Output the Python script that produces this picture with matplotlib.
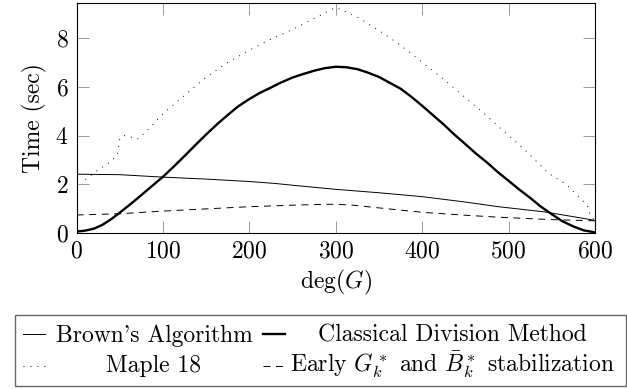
import matplotlib
matplotlib.use("Agg")
import matplotlib.pyplot as plt
from matplotlib.lines import Line2D
from matplotlib.patches import Rectangle

plt.rcParams['font.family'] = 'serif'
plt.rcParams['font.serif'] = ['cmr10']
plt.rcParams['mathtext.fontset'] = 'cm'
plt.rcParams['axes.formatter.use_mathtext'] = True
plt.rcParams['lines.scale_dashes'] = False

# Brown's Algorithm
brown_x = [0, 50, 100, 150, 200, 230, 258, 300, 350, 400, 450, 488, 543, 600]
brown_y = [2.42, 2.40, 2.30, 2.22, 2.12, 2.04, 1.94, 1.80, 1.66, 1.50, 1.28, 1.09, 0.87, 0.53]

# Classical Division Method
classical_x = [0, 10, 20, 30, 40, 50, 60, 70, 80, 90, 100, 112, 125, 137, 150, 162, 175, 187,
               200, 212, 225, 235, 250, 262, 275, 287, 300, 312, 325, 337, 350, 362, 375, 387,
               400, 412, 425, 437, 450, 462, 475, 487, 500, 512, 525, 537, 550, 562, 575, 587, 600]
classical_y = [0.07, 0.11, 0.19, 0.35, 0.58, 0.85, 1.13, 1.42, 1.72, 2.02, 2.32, 2.72, 3.17,
               3.6, 4.05, 4.45, 4.85, 5.2, 5.5, 5.75, 5.97, 6.15, 6.38, 6.52, 6.66, 6.76, 6.82,
               6.8, 6.72, 6.58, 6.4, 6.17, 5.92, 5.6, 5.22, 4.85, 4.45, 4.05, 3.65, 3.27, 2.9,
               2.52, 2.15, 1.8, 1.45, 1.1, 0.78, 0.5, 0.28, 0.12, 0.04]

# Maple 18
maple_x = [10, 25, 40, 47, 50, 55, 62, 70, 80, 100, 125, 150, 175, 200, 225, 250, 275, 300,
           325, 350, 375, 400, 425, 450, 475, 500, 519, 546, 567, 573, 591, 595, 600]
maple_y = [2.2, 2.6, 2.95, 3.2, 3.9, 4.0, 3.95, 3.85, 4.15, 4.9, 5.65, 6.4, 7.0, 7.5, 7.95,
           8.35, 8.8, 9.25, 8.85, 8.3, 7.7, 7.0, 6.3, 5.55, 4.8, 4.0, 3.41, 2.46, 2.0, 1.77,
           1.16, 0.68, 0.55]

# Early G_k^* and B_k^* stabilization
early_x = [0, 50, 100, 150, 200, 258, 280, 300, 320, 350, 400, 450, 488, 550, 600]
early_y = [0.75, 0.80, 0.91, 1.00, 1.09, 1.16, 1.18, 1.19, 1.15, 1.04, 0.86, 0.74, 0.66, 0.56, 0.51]

labels = ["Brown's Algorithm", "Classical Division Method", "Maple 18",
          r"Early $G_k^*$ and $\bar{B}_k^*$ stabilization"]

W, H = 627, 389
fig = plt.figure(figsize=(W / 100, H / 100), dpi=100)
ax = fig.add_axes([76.7 / W, 1 - 233.3 / H, (595 - 76.7) / W, (233.3 - 3) / H])

styles = [
    dict(color='black', lw=0.7),
    dict(color='black', lw=1.7),
    dict(color='black', lw=0.7, dashes=(0.7, 4.3)),
    dict(color='black', lw=0.7, dashes=(5.0, 4.0)),
]
series = [(brown_x, brown_y), (classical_x, classical_y), (maple_x, maple_y), (early_x, early_y)]
for (xs, ys), st in zip(series, styles):
    ax.plot(xs, ys, **st)

ax.set_xlim(0, 600)
ax.set_ylim(0, 9.43)
ax.set_xticks([0, 100, 200, 300, 400, 500, 600])
ax.set_yticks([0, 2, 4, 6, 8])
ax.tick_params(direction='in', length=8.4, width=0.7, color='#999999',
               top=True, right=True, labelsize=17)
ax.tick_params(axis='x', pad=5)
ax.tick_params(axis='y', pad=6)
for s in ax.spines.values():
    s.set_linewidth(0.8)
ax.set_xlabel(r'$\deg(G)$', fontsize=17, labelpad=4)
ax.set_ylabel('Time (sec)', fontsize=17, labelpad=6)

# legend box drawn by hand, two columns with centred labels
fig.patches.append(Rectangle((15 / W, 1 - 386 / H), (626 - 15) / W, (386 - 315) / H,
                             transform=fig.transFigure, fill=False, edgecolor='#666666', lw=1.0))
handle_x = [(23, 45), (263, 285), (23, 45), (263, 285)]
text_cx = [154, 452.5, 154, 452.5]
rows = [(334.3, 342), (334.3, 342), (366, 372), (366, 372)]
for i in range(4):
    x0, x1 = handle_x[i]
    yl, yb = rows[i]
    fig.lines.append(Line2D([x0 / W, x1 / W], [1 - yl / H, 1 - yl / H],
                            transform=fig.transFigure, **styles[i]))
    fig.text(text_cx[i] / W, 1 - yb / H, labels[i], ha='center', va='baseline', fontsize=17)

fig.savefig('out.png', dpi=100)
